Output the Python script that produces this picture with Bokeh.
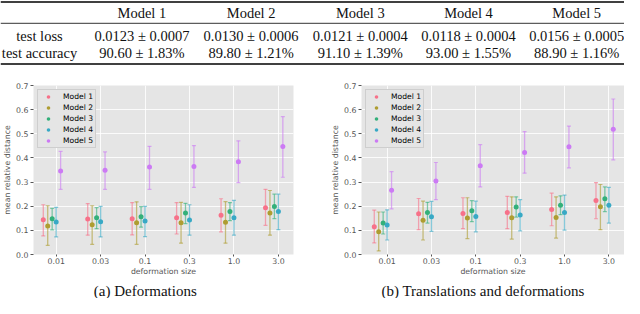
import math
from bokeh.plotting import figure
from bokeh.models import (Range1d, FixedTicker, PrintfTickFormatter, Whisker, TeeHead,
                          ColumnDataSource, Legend, LegendItem, Span)
from bokeh.layouts import column, row
from bokeh.core.properties import value
from bokeh.embed import file_html
from bokeh.resources import INLINE

# ---------------- data ----------------
models = ["Model 1", "Model 2", "Model 3", "Model 4", "Model 5"]
row_labels = ["test loss", "test accuracy"]
test_loss = ["0.0123 \u00b1 0.0007", "0.0130 \u00b1 0.0006", "0.0121 \u00b1 0.0004",
             "0.0118 \u00b1 0.0004", "0.0156 \u00b1 0.0005"]
test_acc = ["90.60 \u00b1 1.83%", "89.80 \u00b1 1.21%", "91.10 \u00b1 1.39%",
            "93.00 \u00b1 1.55%", "88.90 \u00b1 1.16%"]
sizes = ["0.01", "0.03", "0.1", "0.3", "1.0", "3.0"]

# (a) Deformations: mean, lower and upper end of error bar, per model
def_mean = [[0.144, 0.147, 0.148, 0.152, 0.163, 0.194],
            [0.118, 0.123, 0.131, 0.132, 0.134, 0.172],
            [0.148, 0.152, 0.156, 0.172, 0.178, 0.199],
            [0.135, 0.136, 0.139, 0.143, 0.152, 0.178],
            [0.346, 0.349, 0.362, 0.364, 0.384, 0.447]]
def_lo = [[0.077, 0.080, 0.081, 0.085, 0.094, 0.121],
          [0.038, 0.042, 0.042, 0.047, 0.047, 0.080],
          [0.102, 0.107, 0.113, 0.128, 0.140, 0.149],
          [0.073, 0.073, 0.074, 0.080, 0.080, 0.103],
          [0.270, 0.270, 0.270, 0.278, 0.298, 0.320]]
def_hi = [[0.206, 0.211, 0.215, 0.215, 0.231, 0.270],
          [0.202, 0.202, 0.218, 0.216, 0.219, 0.265],
          [0.191, 0.194, 0.198, 0.212, 0.215, 0.250],
          [0.195, 0.199, 0.199, 0.206, 0.224, 0.250],
          [0.427, 0.425, 0.448, 0.451, 0.471, 0.571]]

# (b) Translations and deformations
tr_mean = [[0.115, 0.169, 0.170, 0.174, 0.186, 0.224],
           [0.094, 0.142, 0.151, 0.152, 0.153, 0.198],
           [0.130, 0.174, 0.181, 0.197, 0.204, 0.231],
           [0.122, 0.156, 0.157, 0.164, 0.174, 0.204],
           [0.266, 0.304, 0.368, 0.423, 0.446, 0.519]]
tr_lo = [[0.048, 0.103, 0.107, 0.107, 0.119, 0.148],
         [0.015, 0.060, 0.066, 0.064, 0.068, 0.103],
         [0.085, 0.130, 0.136, 0.155, 0.165, 0.178],
         [0.060, 0.096, 0.094, 0.098, 0.101, 0.130],
         [0.189, 0.227, 0.280, 0.337, 0.359, 0.392]]
tr_hi = [[0.184, 0.232, 0.235, 0.241, 0.254, 0.298],
         [0.176, 0.221, 0.235, 0.239, 0.239, 0.290],
         [0.176, 0.216, 0.223, 0.239, 0.243, 0.280],
         [0.185, 0.220, 0.221, 0.227, 0.246, 0.278],
         [0.343, 0.381, 0.455, 0.509, 0.532, 0.644]]

captions = ["(a) Deformations", "(b) Translations and deformations"]

# ---------------- style / layout ----------------
colors = ["#f77189", "#ae9d31", "#33b07a", "#38a9c5", "#cc7af4"]
dodge = [-0.29, -0.19, -0.09, 0.0, 0.1]
W = 624
SERIF = "Liberation Serif"
SANS = "DejaVu Sans"
GREY = "#555555"

# ---------------- table ----------------
TH = 75
tab = figure(width=W, height=TH, x_range=Range1d(0, W), y_range=Range1d(TH, 0),
             output_backend="svg", toolbar_location=None, min_border=0,
             x_axis_location=None, y_axis_location=None)
tab.grid.visible = False
tab.outline_line_color = None
col_x = [141.4, 250.6, 359.8, 468.0, 576.2]
stub_x = 39
hdr_y, r1_y, r2_y = 12.3, 35.1, 52.2
tstyle = dict(text_align="center", text_baseline="middle", text_font=value(SERIF),
              text_font_size="14.5px", text_color="#111111")
tab.text(x=col_x, y=[hdr_y] * len(models), text=models, **tstyle)
tab.text(x=col_x, y=[r1_y] * len(models), text=test_loss, **tstyle)
tab.text(x=col_x, y=[r2_y] * len(models), text=test_acc, **tstyle)
tab.text(x=[stub_x, stub_x], y=[r1_y, r2_y], text=row_labels, **tstyle)
for loc, lw in [(1.6, 1.5), (22.8, 0.8), (63.6, 1.5)]:
    tab.add_layout(Span(location=loc, dimension="width", line_color="black", line_width=lw))


# ---------------- panels ----------------
def panel(means, los, his, x0, x1, width, mbr):
    p = figure(width=width, height=205, x_range=Range1d(x0, x1), y_range=Range1d(0, 0.7),
               output_backend="svg", toolbar_location=None,
               min_border_left=0, min_border_right=mbr, min_border_top=10, min_border_bottom=26)
    p.background_fill_color = "#E5E5E5"
    p.border_fill_color = "white"
    p.outline_line_color = None

    xt = FixedTicker(ticks=list(range(len(sizes))))
    yt = FixedTicker(ticks=[round(0.1 * i, 1) for i in range(8)])
    p.xaxis.ticker = xt
    p.yaxis.ticker = yt
    p.xgrid.ticker = xt
    p.ygrid.ticker = yt
    p.xaxis.major_label_overrides = {i: s for i, s in enumerate(sizes)}
    p.yaxis.formatter = PrintfTickFormatter(format="%.1f")
    p.grid.grid_line_color = "white"
    p.grid.grid_line_alpha = 0.85
    p.grid.grid_line_width = 1

    p.axis.axis_line_color = None
    p.axis.minor_tick_line_color = None
    p.axis.major_tick_line_color = GREY
    p.axis.major_tick_in = 0
    p.xaxis.major_tick_out = 2
    p.yaxis.major_tick_out = 3
    p.axis.major_label_text_font = SANS
    p.axis.major_label_text_font_size = "7.8px"
    p.axis.major_label_text_color = GREY
    p.xaxis.major_label_standoff = 1
    p.yaxis.major_label_standoff = 2
    p.xaxis.axis_label = "deformation size"
    p.yaxis.axis_label = "mean relative distance"
    p.axis.axis_label_text_font = SANS
    p.axis.axis_label_text_font_size = "7.8px"
    p.axis.axis_label_text_font_style = "normal"
    p.axis.axis_label_text_color = GREY
    p.xaxis.axis_label_standoff = 0
    p.yaxis.axis_label_standoff = 1

    items = []
    for m in range(len(models)):
        c = colors[m]
        xs = [i + dodge[m] for i in range(len(sizes))]
        src = ColumnDataSource(dict(x=xs, y=means[m], lo=los[m], hi=his[m]))
        w = Whisker(source=src, base="x", upper="hi", lower="lo", dimension="height",
                    line_color=c, line_alpha=0.6, line_width=1.3,
                    upper_head=TeeHead(size=4, line_color=c, line_alpha=0.6, line_width=1.2),
                    lower_head=TeeHead(size=4, line_color=c, line_alpha=0.6, line_width=1.2))
        p.add_layout(w)
        r = p.scatter("x", "y", source=src, size=5, fill_color=c, line_color=None)
        bar = p.scatter(x=[], y=[], marker="dash", angle=math.pi / 2, size=9,
                        line_color=c, line_alpha=0.6, line_width=1.2)
        items.append(LegendItem(label=models[m], renderers=[bar, r]))

    leg = Legend(items=items, location="top_left", margin=4, padding=2, spacing=2,
                 label_height=9, glyph_height=9, glyph_width=16, label_standoff=7,
                 label_text_font=SANS, label_text_font_size="7.6px", label_text_color="black",
                 background_fill_color="#E5E5E5", background_fill_alpha=1,
                 border_line_color="#b8b8b8", border_line_width=1)
    p.add_layout(leg)
    return p


left = panel(def_mean, def_lo, def_hi, -0.51, 5.34, 328, 35)
right = panel(tr_mean, tr_lo, tr_hi, -0.578, 5.353, 296, 0)

# ---------------- captions ----------------
CH = 18
cap = figure(width=W, height=CH, x_range=Range1d(0, W), y_range=Range1d(CH, 0),
             output_backend="svg", toolbar_location=None, min_border=0,
             x_axis_location=None, y_axis_location=None)
cap.grid.visible = False
cap.outline_line_color = None
cap_x = [144.8, 482.6]
cap.text(x=cap_x, y=[10.0, 10.0], text=captions, text_align="center", text_baseline="middle",
         text_font=value(SERIF), text_font_size="15px", text_color="#111111")

layout = column(tab, row(left, right), cap)
open("out.html", "w").write(file_html(layout, INLINE))
